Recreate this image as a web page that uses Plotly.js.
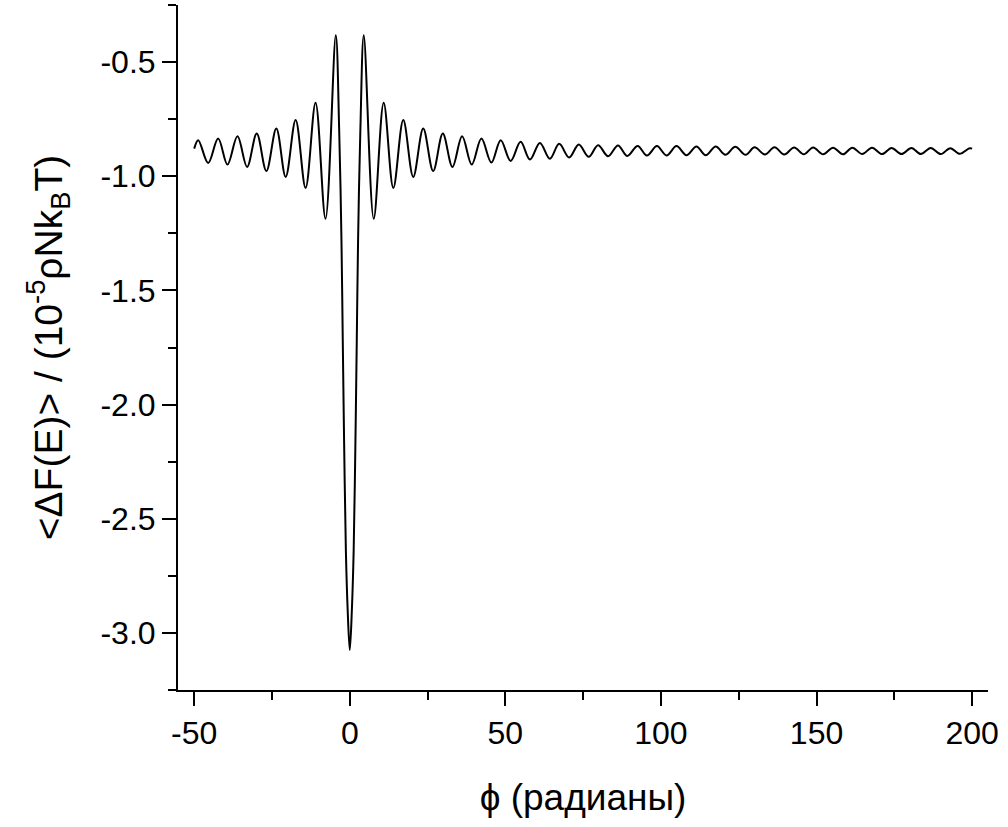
<!DOCTYPE html>
<html>
<head>
<meta charset="utf-8">
<script src="https://cdn.plot.ly/plotly-3.0.1.min.js"></script>
<style>html,body{margin:0;padding:0;background:#fff;}#chart{width:1008px;height:827px;}</style>
</head>
<body>
<div id="chart"></div>
<script>
// Values (extrema and points of the central dip)
var phiLeft = [-50.0, -48.7, -45.5, -42.3, -39.3, -36.1, -33.0, -29.9, -26.8, -23.6, -20.6, -17.4, -14.2, -11.0, -7.8, -4.5];
var fLeft   = [-0.879, -0.842, -0.942, -0.835, -0.949, -0.825, -0.959, -0.813, -0.977, -0.791, -1.003, -0.754, -1.051, -0.678, -1.186, -0.382];

var phiDip = [-3.4, -2.67, -2.25, -1.8, -1.25, -0.7, 0.0, 0.7, 1.25, 1.8, 2.25, 2.67, 3.4];
var fDip   = [-0.80, -1.28, -1.72, -2.18, -2.64, -2.89, -3.075, -2.89, -2.64, -2.18, -1.72, -1.28, -0.80];

var phiRight = [4.5, 7.7, 10.9, 14.0, 17.2, 20.4, 23.6, 26.8, 29.9, 33.0, 36.1, 39.2, 42.3, 45.5, 48.5, 51.7,
  54.9, 57.9, 61.1, 64.3, 67.3, 70.5, 73.6, 76.8, 79.8, 83.0, 86.2, 89.2, 92.5, 95.5, 98.7, 101.8,
  105.0, 108.2, 111.4, 114.4, 117.6, 120.7, 123.9, 127.2, 130.1, 133.4, 136.5, 139.6, 142.8, 145.9,
  148.9, 152.1, 155.3, 158.5, 161.5, 164.7, 167.8, 171.1, 174.1, 177.3, 180.5, 183.5, 186.7, 189.9,
  193.0, 196.0, 199.2, 200.0];
var fRight = [-0.382, -1.186, -0.678, -1.051, -0.754, -1.003, -0.791, -0.977, -0.813, -0.959, -0.825, -0.949, -0.835, -0.940, -0.842, -0.933,
  -0.849, -0.927, -0.854, -0.923, -0.858, -0.918, -0.861, -0.915, -0.864, -0.912, -0.865, -0.911, -0.867, -0.909, -0.868, -0.909,
  -0.868, -0.908, -0.870, -0.908, -0.870, -0.906, -0.871, -0.906, -0.873, -0.905, -0.873, -0.905, -0.874, -0.904,
  -0.874, -0.904, -0.875, -0.904, -0.875, -0.903, -0.875, -0.903, -0.876, -0.903, -0.876, -0.903, -0.876, -0.903,
  -0.877, -0.902, -0.877, -0.879];

var xTickVals = [-50, 0, 50, 100, 150, 200];
var xTickText = ['-50', '0', '50', '100', '150', '200'];
var yTickVals = [-3.0, -2.5, -2.0, -1.5, -1.0, -0.5];
var yTickText = ['-3.0', '-2.5', '-2.0', '-1.5', '-1.0', '-0.5'];

var xTitle = 'ϕ (радианы)';
var yTitle = '&lt;ΔF(E)&gt; / (10<sup>-5</sup>ρNk<sub>B</sub>T)';

var phi = phiLeft.concat(phiDip, phiRight);
var f = fLeft.concat(fDip, fRight);

var font = 'Liberation Sans, Arial, Helvetica, sans-serif';

var trace = {
  x: phi, y: f, type: 'scatter', mode: 'lines',
  line: {color: '#000', width: 2, shape: 'spline', smoothing: 1},
  hoverinfo: 'skip'
};

var layout = {
  width: 1008, height: 827,
  margin: {l: 178, r: 20, t: 5, b: 137},
  paper_bgcolor: '#fff', plot_bgcolor: '#fff',
  showlegend: false,
  font: {family: font, color: '#000', size: 32},
  xaxis: {
    range: [-55.2, 205.1],
    tickmode: 'array', tickvals: xTickVals, ticktext: xTickText,
    ticks: 'outside', ticklen: 14, tickwidth: 2, tickcolor: '#000',
    minor: {tickmode: 'linear', tick0: 0, dtick: 25, ticks: 'outside', ticklen: 8, tickwidth: 2, tickcolor: '#000'},
    showline: true, linecolor: '#000', linewidth: 2,
    showgrid: false, zeroline: false,
    tickfont: {family: font, size: 32, color: '#000'},
    title: {text: xTitle, font: {family: font, size: 37, color: '#000'}, standoff: 34}
  },
  yaxis: {
    range: [-3.25, -0.25],
    tickmode: 'array', tickvals: yTickVals, ticktext: yTickText,
    ticks: 'outside', ticklen: 14, tickwidth: 2, tickcolor: '#000',
    minor: {tickmode: 'linear', tick0: 0, dtick: 0.25, ticks: 'outside', ticklen: 8, tickwidth: 2, tickcolor: '#000'},
    showline: true, linecolor: '#000', linewidth: 2,
    showgrid: false, zeroline: false,
    tickfont: {family: font, size: 32, color: '#000'},
    title: {text: yTitle, font: {family: font, size: 39, color: '#000'}, standoff: 26}
  },
  shapes: [{type: 'line', xref: 'paper', yref: 'paper', x0: -0.008, x1: 0, y0: 0, y1: 0, line: {color: '#000', width: 2}}]
};

Plotly.newPlot('chart', [trace], layout, {staticPlot: true, displayModeBar: false});
</script>
</body>
</html>
